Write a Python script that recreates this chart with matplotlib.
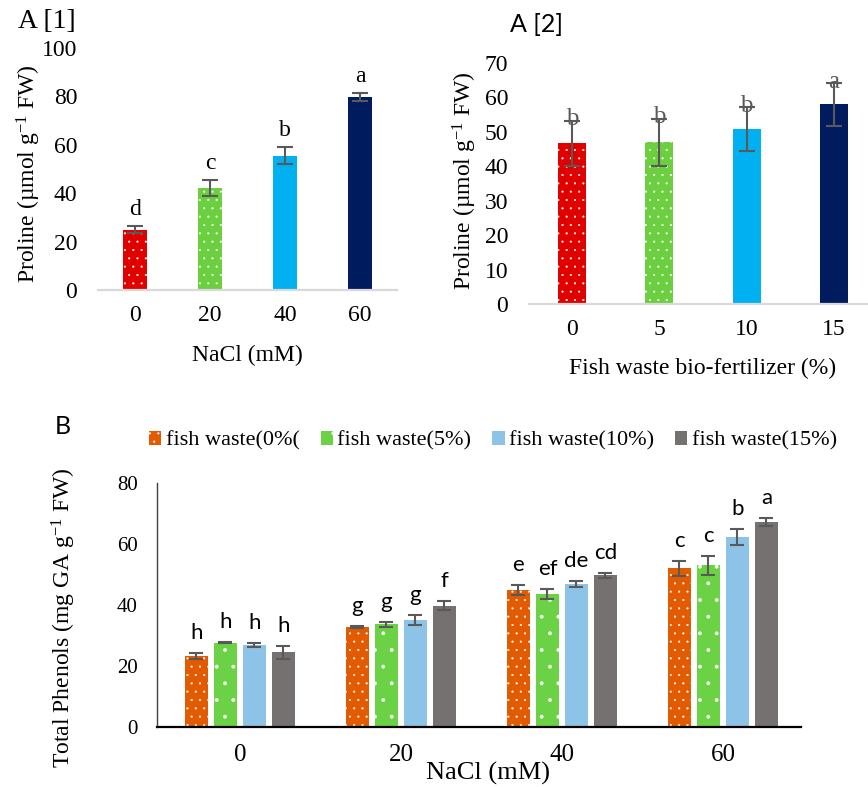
import matplotlib
matplotlib.use("Agg")
import matplotlib.pyplot as plt
from matplotlib.patches import Patch
import numpy as np

plt.rcParams['font.family'] = ['Liberation Serif', 'DejaVu Serif']
plt.rcParams['mathtext.default'] = 'regular'
plt.rcParams['hatch.linewidth'] = 0.3

# ---------------- data ----------------
a1_cats = ['0', '20', '40', '60']
a1_vals = [25.0, 42.2, 55.5, 79.7]
a1_err = [1.5, 3.3, 3.5, 1.5]
a1_letters = ['d', 'c', 'b', 'a']

a2_cats = ['0', '5', '10', '15']
a2_vals = [46.7, 47.0, 50.8, 58.0]
a2_err = [6.5, 6.8, 6.4, 6.2]
a2_letters = ['b', 'b', 'b', 'a']

b_groups = ['0', '20', '40', '60']
b_series = ['fish waste(0%(', 'fish waste(5%)', 'fish waste(10%)', 'fish waste(15%)']
b_fw0 = [23.4, 32.7, 44.9, 52.0]
b_fw5 = [27.7, 33.7, 43.6, 53.1]
b_fw10 = [26.9, 35.0, 46.9, 62.3]
b_fw15 = [24.5, 39.8, 49.8, 67.2]
b_fw0_err = [1.0, 0.3, 1.7, 2.4]
b_fw5_err = [0.3, 0.8, 1.7, 3.1]
b_fw10_err = [0.6, 1.7, 0.9, 2.5]
b_fw15_err = [2.2, 1.4, 0.8, 1.2]
b_fw0_let = ['h', 'g', 'e', 'c']
b_fw5_let = ['h', 'g', 'ef', 'c']
b_fw10_let = ['h', 'g', 'de', 'b']
b_fw15_let = ['h', 'f', 'cd', 'a']

# ---------------- style ----------------
a_colors = ['#E00000', '#6BCF40', '#00B0F0', '#001B5E']
a_hatches = ['..', '..', None, None]
b_colors = ['#E35B00', '#6BD145', '#8DC3E6', '#767171']
b_hatches = ['..', '.', None, None]
err_col = '#595959'

W, H = 868, 787
fig = plt.figure(figsize=(W / 100, H / 100), dpi=100)


def px_axes(l, t, r, b):
    return fig.add_axes([l / W, 1 - b / H, (r - l) / W, (b - t) / H])


def style_a(ax):
    for s in ['top', 'right', 'left']:
        ax.spines[s].set_visible(False)
    ax.spines['bottom'].set_color('#D9D9D9')
    ax.spines['bottom'].set_linewidth(1.6)
    ax.tick_params(axis='both', length=0, labelsize=17)
    ax.tick_params(axis='y', pad=15)
    ax.tick_params(axis='x', pad=11)


# ---------------- A[1] ----------------
ax1 = px_axes(98, 48, 397, 290)
x1 = np.arange(len(a1_cats))
for i in range(len(x1)):
    ax1.bar(x1[i], a1_vals[i], width=0.31, color=a_colors[i],
            hatch=a_hatches[i], edgecolor='white', linewidth=0)
ax1.errorbar(x1, a1_vals, yerr=a1_err, fmt='none', ecolor=err_col,
             elinewidth=1.5, capsize=6, capthick=1.5)
for i in range(len(x1)):
    ax1.annotate(a1_letters[i], (x1[i], a1_vals[i] + a1_err[i]),
                 xytext=(0, 8), textcoords='offset points',
                 ha='center', va='baseline', fontsize=17)
ax1.set_ylim(0, 100)
ax1.set_yticks(np.arange(0, 101, 20))
ax1.set_xlim(-0.493, 3.493)
ax1.set_xticks(x1)
ax1.set_xticklabels(a1_cats)
style_a(ax1)
fig.text(247 / W, 1 - 355 / H, 'NaCl (mM)', ha='center', va='center', fontsize=17)
fig.text(29 / W, 1 - 174 / H, r'Proline (µmol g$^{-1}$ FW)', rotation=90,
         ha='center', va='center', fontsize=17)
fig.text(18 / W, 1 - 22 / H, 'A [1]', ha='left', va='center', fontsize=20)

# ---------------- A[2] ----------------
ax2 = px_axes(529, 63, 868, 304)
x2 = np.arange(len(a2_cats))
for i in range(len(x2)):
    ax2.bar(x2[i], a2_vals[i], width=0.32, color=a_colors[i],
            hatch=a_hatches[i], edgecolor='white', linewidth=0)
ax2.errorbar(x2, a2_vals, yerr=a2_err, fmt='none', ecolor=err_col,
             elinewidth=1.5, capsize=6, capthick=1.5)
for i in range(len(x2)):
    ax2.annotate(a2_letters[i], (x2[i], a2_vals[i] + a2_err[i]),
                 xytext=(0, 1), textcoords='offset points',
                 ha='center', va='center', fontsize=18, color=err_col)
ax2.set_ylim(0, 70)
ax2.set_yticks(np.arange(0, 71, 10))
ax2.set_xlim(-0.49, 3.39)
ax2.set_xticks(x2)
ax2.set_xticklabels(a2_cats)
style_a(ax2)
fig.text(703 / W, 1 - 368 / H, 'Fish waste bio-fertilizer (%)', ha='center',
         va='center', fontsize=17)
fig.text(465 / W, 1 - 181 / H, r'Proline (µmol g$^{-1}$ FW)', rotation=90,
         ha='center', va='center', fontsize=17)
fig.text(510 / W, 1 - 25 / H, 'A [2]', ha='left', va='center', fontsize=18,
         family=['Lato', 'DejaVu Sans'])

# ---------------- B ----------------
axb = px_axes(157, 483, 801, 727)
xb = np.arange(len(b_groups))
series_vals = [b_fw0, b_fw5, b_fw10, b_fw15]
series_err = [b_fw0_err, b_fw5_err, b_fw10_err, b_fw15_err]
series_let = [b_fw0_let, b_fw5_let, b_fw10_let, b_fw15_let]
step, bw = 0.18, 0.143
handles = []
for k in range(4):
    pos = xb + (k - 1.5) * step
    axb.bar(pos, series_vals[k], width=bw, color=b_colors[k],
            hatch=b_hatches[k], edgecolor='white', linewidth=0)
    axb.errorbar(pos, series_vals[k], yerr=series_err[k], fmt='none',
                 ecolor=err_col, elinewidth=1.5, capsize=5, capthick=1.5)
    for j in range(len(xb)):
        axb.annotate(series_let[k][j], (pos[j], series_vals[k][j] + series_err[k][j]),
                     xytext=(0, 10), textcoords='offset points', ha='center',
                     va='baseline', fontsize=16, family=['Lato', 'DejaVu Sans'])
    handles.append(Patch(facecolor=b_colors[k], hatch=b_hatches[k],
                         edgecolor='white', linewidth=0, label=b_series[k]))
axb.set_ylim(0, 80)
axb.set_yticks(np.arange(0, 81, 20))
axb.set_xlim(-0.515, 3.485)
axb.set_xticks(xb)
axb.set_xticklabels(b_groups)
for s in ['top', 'right']:
    axb.spines[s].set_visible(False)
axb.spines['left'].set_color('#404040')
axb.spines['left'].set_linewidth(1.0)
axb.spines['bottom'].set_color('black')
axb.spines['bottom'].set_linewidth(1.6)
axb.tick_params(axis='y', length=0, labelsize=15, pad=14)
axb.tick_params(axis='x', length=0, labelsize=18, pad=12)
fig.text(488 / W, 1 - 773 / H, 'NaCl (mM)', ha='center', va='center', fontsize=19)
fig.text(64 / W, 1 - 618 / H, r'Total Phenols (mg GA g$^{-1}$ FW)', rotation=90,
         ha='center', va='center', fontsize=17)
fig.text(55 / W, 1 - 427 / H, 'B', ha='left', va='center', fontsize=18,
         family=['Lato', 'DejaVu Sans'])
fig.legend(handles=handles, loc='center', bbox_to_anchor=(493 / W, 1 - 441 / H),
           ncol=4, frameon=False, fontsize=16, handlelength=0.55,
           handleheight=0.55, handletextpad=0.2, columnspacing=0.95,
           borderpad=0, borderaxespad=0)

fig.savefig('out.png', dpi=100)
